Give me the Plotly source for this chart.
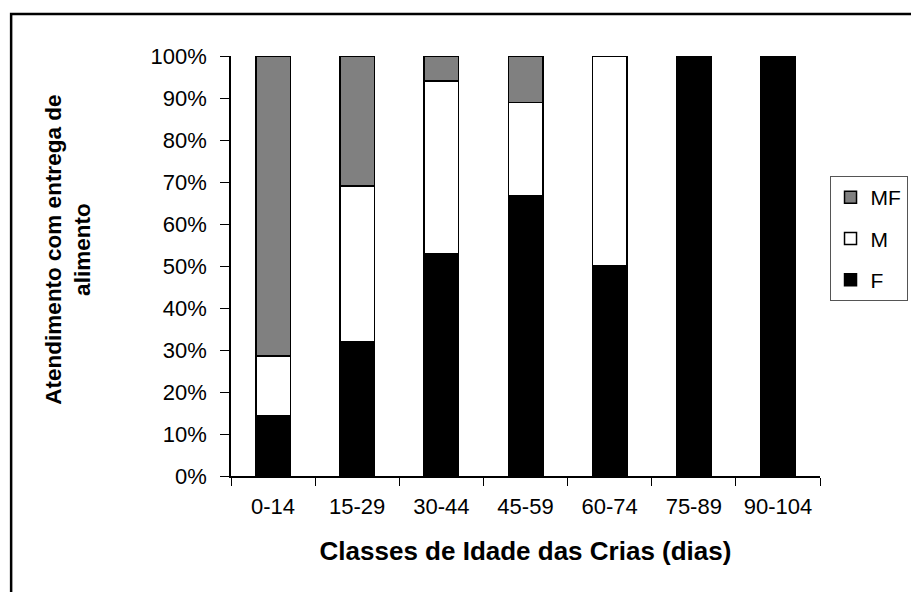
import plotly.graph_objects as go

classes = ["0-14", "15-29", "30-44", "45-59", "60-74", "75-89", "90-104"]
f_vals = [14.3, 32.0, 52.9, 66.7, 50.0, 100.0, 100.0]
m_vals = [14.3, 37.0, 41.2, 22.2, 50.0, 0.0, 0.0]
mf_vals = [71.4, 31.0, 5.9, 11.1, 0.0, 0.0, 0.0]

y_ticks = list(range(0, 101, 10))
y_labels = [f"{v}%" for v in y_ticks]

FONT = "Arial, Liberation Sans, sans-serif"

fig = go.Figure()

# stacked bottom to top; legend shows MF on top
series = [
    ("F", f_vals, "black", 3),
    ("M", m_vals, "white", 2),
    ("MF", mf_vals, "#808080", 1),
]
for name, vals, color, rank in series:
    fig.add_trace(go.Bar(
        x=classes,
        y=vals,
        name=name,
        legendgroup=name,
        legendrank=rank,
        marker=dict(color=color, line=dict(color="black", width=1.5)),
    ))

# page body has an 8px margin, so the figure is a bit smaller than the window
fig.update_layout(
    barmode="stack",
    bargap=0.59,
    width=911,
    height=584,
    margin=dict(l=223, r=96, t=48, b=116),
    paper_bgcolor="white",
    plot_bgcolor="white",
    font=dict(family=FONT, size=21, color="black"),
    showlegend=True,
    legend=dict(
        traceorder="grouped",
        x=1.1486,
        y=0.714,
        xanchor="right",
        yanchor="top",
        bordercolor="#555555",
        borderwidth=1,
        font=dict(size=21),
        tracegroupgap=11,
        itemwidth=30,
    ),
    xaxis=dict(
        type="category",
        showline=True,
        linecolor="black",
        linewidth=1.5,
        ticks="outside",
        tickson="boundaries",
        ticklen=8,
        tickcolor="black",
        tickfont=dict(size=22),
        ticklabelstandoff=10,
        showgrid=False,
        zeroline=False,
        range=[-0.5, 6.5],
        title=dict(
            text="<b>Classes de Idade das Crias (dias)</b>",
            font=dict(size=26),
            standoff=24,
        ),
    ),
    yaxis=dict(
        range=[0, 100],
        tickmode="array",
        tickvals=y_ticks,
        ticktext=y_labels,
        tickfont=dict(size=22),
        showline=True,
        linecolor="black",
        linewidth=1.5,
        ticks="outside",
        ticklen=9,
        tickcolor="black",
        ticklabelstandoff=9,
        showgrid=False,
        zeroline=False,
    ),
    annotations=[
        dict(
            text="<b>Atendimento com entrega de<br>alimento</b>",
            xref="paper",
            yref="paper",
            x=-0.276,
            y=0.54,
            xanchor="center",
            yanchor="middle",
            textangle=-90,
            showarrow=False,
            font=dict(size=22.5),
        )
    ],
    shapes=[
        dict(
            type="rect",
            xref="paper",
            yref="paper",
            x0=-0.3733,
            y0=-0.5,
            x1=1.4,
            y1=1.1,
            line=dict(color="black", width=2.5),
            fillcolor="rgba(0,0,0,0)",
            layer="below",
        )
    ],
)

fig.write_html("out.html")
